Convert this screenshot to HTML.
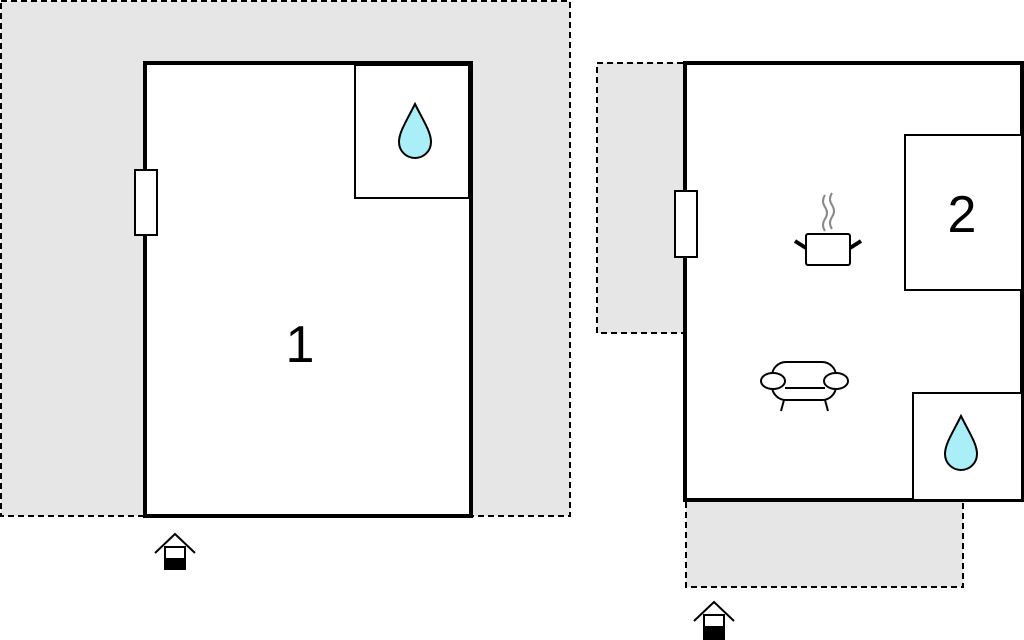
<!DOCTYPE html>
<html><head><style>body{margin:0;background:#fff}svg{display:block}</style></head>
<body>
<svg width="1024" height="640" xmlns="http://www.w3.org/2000/svg">
<g fill="#e6e6e6" stroke="#000" stroke-width="2" stroke-dasharray="6,4">
<rect x="1" y="1" width="569" height="515"/>
<rect x="597" y="63" width="90" height="270"/>
<rect x="686" y="500" width="277" height="87"/>
</g>
<rect x="145" y="63" width="326" height="453" fill="#fff" stroke="#000" stroke-width="4"/>
<rect x="355" y="65" width="114" height="133" fill="#fff" stroke="#000" stroke-width="2"/>
<rect x="135" y="170" width="22" height="65" fill="#fff" stroke="#000" stroke-width="2"/>
<text x="300" y="362" font-family="Liberation Sans, sans-serif" font-size="52" text-anchor="middle">1</text>
<path d="M415 104 C406 122 399 132 399 142 A16 16 0 0 0 431 142 C431 132 424 122 415 104Z" fill="#aaeef7" stroke="#000" stroke-width="2"/>
<rect x="685" y="63" width="337" height="437" fill="#fff" stroke="#000" stroke-width="4"/>
<rect x="905" y="135" width="117" height="155" fill="#fff" stroke="#000" stroke-width="2"/>
<rect x="913" y="393" width="109" height="107" fill="#fff" stroke="#000" stroke-width="2"/>
<rect x="675" y="191" width="22" height="66" fill="#fff" stroke="#000" stroke-width="2"/>
<text x="962" y="232" font-family="Liberation Sans, sans-serif" font-size="52" text-anchor="middle">2</text>
<path d="M961 416 C952 434 945 444 945 454 A16 16 0 0 0 977 454 C977 444 970 434 961 416Z" fill="#aaeef7" stroke="#000" stroke-width="2"/>
<g fill="none" stroke="#888" stroke-width="2"><path d="M825 195 q-4 6 0 12 q4 6 0 12 q-4 6 0 12"/><path d="M832 193 q-4 6 0 12 q4 6 0 12 q-4 6 0 12"/></g>
<rect x="806" y="234" width="44" height="31" rx="2" fill="#fff" stroke="#000" stroke-width="2"/>
<path d="M795 241 L806 248 M861 241 L850 248" stroke="#000" stroke-width="4"/>
<g fill="#fff" stroke="#000" stroke-width="2">
<rect x="772" y="362" width="64" height="38" rx="14"/>
<ellipse cx="773" cy="381" rx="12" ry="8"/><ellipse cx="836" cy="381" rx="12" ry="8"/>
<path d="M784 400 L781 411 M825 400 L828 411 M785 388 L825 388"/>
</g>
<g>
<path d="M155 553 L175 534 L195 553" fill="none" stroke="#000" stroke-width="2"/>
<rect x="165" y="547" width="20" height="22" fill="#fff" stroke="#000" stroke-width="2"/>
<rect x="165" y="558" width="20" height="11" fill="#000"/>
<path d="M694 621 L714 602 L734 621" fill="none" stroke="#000" stroke-width="2"/>
<rect x="704" y="615" width="20" height="24" fill="#fff" stroke="#000" stroke-width="2"/>
<rect x="704" y="626" width="20" height="13" fill="#000"/>
</g>
</svg>
</body></html>
